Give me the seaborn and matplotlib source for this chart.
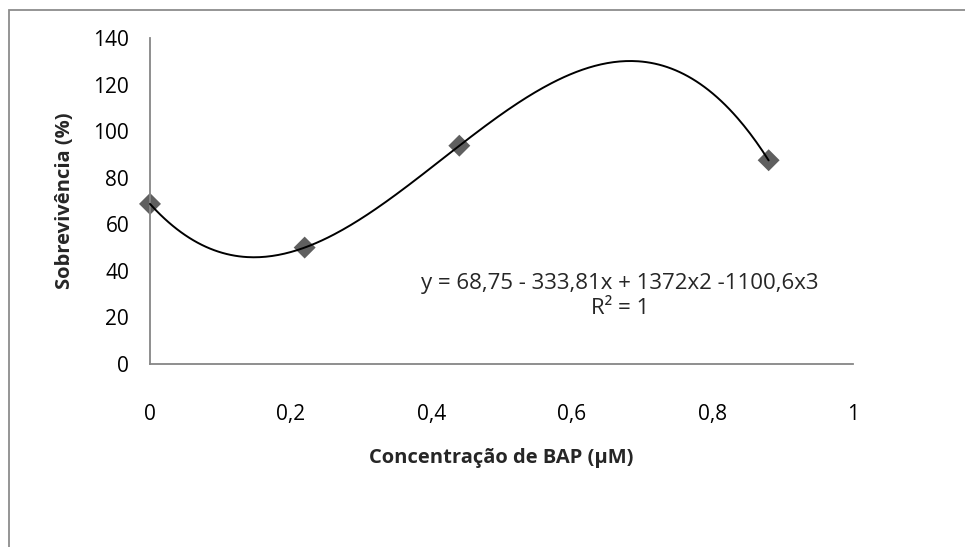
import numpy as np
import pandas as pd
import matplotlib
matplotlib.use("Agg")
import matplotlib.pyplot as plt
import seaborn as sns
from matplotlib.patches import Rectangle
from matplotlib.ticker import FuncFormatter

# data
bap_conc = [0.0, 0.22, 0.44, 0.88]
survival = [68.75, 50.0, 93.75, 87.5]
trend_coefs = [68.75, -333.81, 1372.0, -1100.6]  # c0 + c1 x + c2 x^2 + c3 x^3
x_ticks = [0, 0.2, 0.4, 0.6, 0.8, 1.0]
y_ticks = [0, 20, 40, 60, 80, 100, 120, 140]
eq_text = "y = 68,75 - 333,81x + 1372x2 -1100,6x3"
r2_text = "R² = 1"
x_label = "Concentração de BAP (µM)"
y_label = "Sobrevivência (%)"

sns.set_style("white")
plt.rcParams['font.family'] = ['Open Sans', 'DejaVu Sans']

fig = plt.figure(figsize=(9.65, 5.47), dpi=100)
ax = fig.add_axes([150/965, 1-364/547, (853-150)/965, (364-38)/547])

xs = np.linspace(min(bap_conc), max(bap_conc), 300)
ys = np.polyval(trend_coefs[::-1], xs)
trend = pd.DataFrame({"x": xs, "y": ys})
pts = pd.DataFrame({"x": bap_conc, "y": survival})

sns.scatterplot(data=pts, x="x", y="y", marker="D", s=125, color="#5f5f5f",
                edgecolor="none", ax=ax, zorder=2, clip_on=False)
sns.lineplot(data=trend, x="x", y="y", color="black", linewidth=1.4, ax=ax,
             zorder=3, clip_on=False)

ax.set_xlim(0, 1)
ax.set_ylim(0, 140)
ax.set_xticks(x_ticks)
ax.set_yticks(y_ticks)
ax.xaxis.set_major_formatter(FuncFormatter(lambda v, p: ("%g" % v).replace(".", ",")))
for s in ["top", "right"]:
    ax.spines[s].set_visible(False)
for s in ["left", "bottom"]:
    ax.spines[s].set_color("#868686")
    ax.spines[s].set_linewidth(1.3)
ax.tick_params(axis="both", which="major", direction="out", length=5, width=1.3,
               color="#868686", labelsize=15, labelcolor="black")
ax.tick_params(axis="x", pad=24)
ax.tick_params(axis="y", pad=10)
ax.set_xlabel(x_label, fontsize=14.5, fontweight="bold", labelpad=16)
ax.set_ylabel(y_label, fontsize=14.5, fontweight="bold", labelpad=13)

fig.text(620/965, 1-284/547, eq_text, ha="center", va="center", fontsize=16)
fig.text(620/965, 1-308/547, r2_text, ha="center", va="center", fontsize=16)

fig.patches.append(Rectangle((9/965, -0.1), 1.2, 1.1 - 10/547, transform=fig.transFigure,
                             fill=False, edgecolor="#8c8c8c", linewidth=1.3))

fig.savefig("out.png", dpi=100)
